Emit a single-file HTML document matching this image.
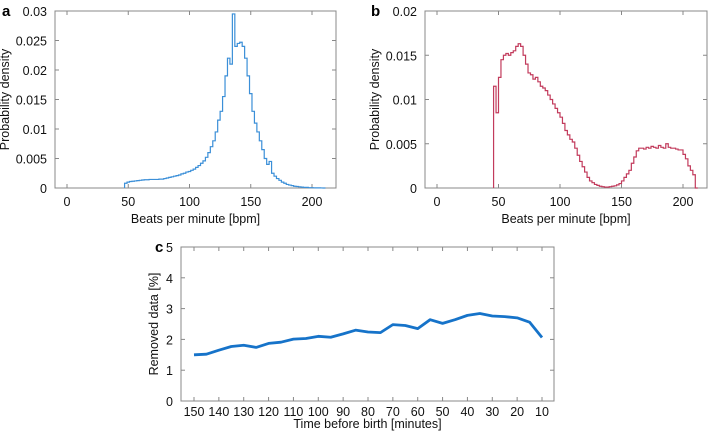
<!DOCTYPE html>
<html><head><meta charset="utf-8"><style>
body{margin:0;background:#fff;width:709px;height:431px;overflow:hidden}
svg{display:block;font-family:"Liberation Sans","DejaVu Sans",sans-serif}
</style></head><body>
<svg id="s" width="709" height="431" viewBox="0 0 709 431"></svg>
<script>
const binsA=[48,50,52,54,56,58,60,62,64,66,68,70,72,74,76,78,80,82,84,86,88,90,92,94,96,98,100,102,104,106,108,110,112,114,116,118,120,122,124,126,128,130,132,134,136,138,140,142,144,146,148,150,152,154,156,158,160,162,164,166,168,170,172,174,176,178,180,182,184,186,188,190,192,194,196,198,200,202,204,206,208,210];
const densA=[0.8,1.0,1.1,1.15,1.2,1.25,1.3,1.35,1.4,1.4,1.45,1.45,1.45,1.45,1.5,1.5,1.6,1.7,1.8,1.9,2.0,2.1,2.2,2.4,2.5,2.7,2.8,3.0,3.2,3.5,3.8,4.2,4.6,5.2,6.0,7.0,8.0,9.5,11.5,13,15.5,19,22,21,29.5,24,24.5,24.7,24,22,19,16,13,11,9.5,8,6.5,5,4,4.5,2.5,2,1.6,1.3,1.0,0.8,0.6,0.5,0.4,0.3,0.25,0.2,0.15,0.1,0.1,0.05,0.05,0.03,0.02,0.02,0.01,0];
const binsB=[47,49,51,53,55,57,59,61,63,65,67,69,71,73,75,77,79,81,83,85,87,89,91,93,95,97,99,101,103,105,107,109,111,113,115,117,119,121,123,125,127,129,131,133,135,137,139,141,143,145,147,149,151,153,155,157,159,161,163,165,167,169,171,173,175,177,179,181,183,185,187,189,191,193,195,197,199,201,203,205,207,209,211];
const densB=[11.5,8.5,12.5,14.5,15,15.2,15,15.3,15.5,16,16.3,16,15,14,13,12.8,12.3,12.5,12,11.5,11.3,11,10.5,10,9.5,9,8.5,8,7.3,6.5,6,5.5,5.2,4.5,3.7,3,2.4,1.8,1.2,0.8,0.6,0.4,0.3,0.2,0.15,0.1,0.1,0.15,0.2,0.25,0.35,0.5,0.8,1.2,1.6,2.0,2.8,3.5,4.2,4.5,4.5,4.4,4.6,4.5,4.7,4.6,4.5,4.8,4.6,4.5,5.0,4.6,4.5,4.5,4.4,4.3,4.3,3.8,3.3,2.5,2,1.5,0];
const timesC=[150,145,140,135,130,125,120,115,110,105,100,95,90,85,80,75,70,65,60,55,50,45,40,35,30,25,20,15,10];
const removedC=[1.5,1.52,1.65,1.77,1.81,1.74,1.87,1.91,2.01,2.03,2.1,2.07,2.18,2.3,2.24,2.22,2.48,2.45,2.35,2.64,2.52,2.64,2.78,2.84,2.76,2.74,2.7,2.56,2.06];
const ticksA=["0","0.005","0.01","0.015","0.02","0.025","0.03"];
const ticksB=["0","0.005","0.01","0.015","0.02"];
const ticksX=[0,50,100,150,200];
const ticksCx=[150,140,130,120,110,100,90,80,70,60,50,40,30,20,10];
const ticksCy=[0,1,2,3,4,5];

const S=document.getElementById('s');const NS="http://www.w3.org/2000/svg";
const FS=12.5;
function mk(t,a,txt){const e=document.createElementNS(NS,t);for(const k in a)e.setAttribute(k,a[k]);if(txt!==undefined)e.textContent=txt;S.appendChild(e);return e;}

function hist(o){
 const sx=v=>o.x0+(v-0)*(o.x200-o.x0)/200;
 const sy=v=>o.bottom-(v/o.ymax)*(o.bottom-o.top);
 let b=mk('rect',{x:o.left,y:o.top,width:o.right-o.left,height:o.bottom-o.top,fill:'none',stroke:'#888','stroke-width':1});
 
 o.yt.forEach((t,i)=>{const y=sy(i*0.005*1000);
  mk('line',{x1:o.left,x2:o.left+4,y1:y,y2:y,stroke:'#888'});mk('line',{x1:o.right,x2:o.right-4,y1:y,y2:y,stroke:'#888'});
  const e=mk('text',{x:o.left-8,y:y+5,'text-anchor':'end','font-size':FS,fill:'#111'},t);
  });
 ticksX.forEach(t=>{const x=sx(t);
  mk('line',{x1:x,x2:x,y1:o.bottom,y2:o.bottom-4,stroke:'#888'});mk('line',{x1:x,x2:x,y1:o.top,y2:o.top+4,stroke:'#888'});
  const e=mk('text',{x:x,y:o.bottom+18,'text-anchor':'middle','font-size':FS,fill:'#111'},t);
  });
 let d='M'+sx(o.bins[0]-1)+','+sy(0);
 o.bins.forEach((bn,i)=>{const y=sy(o.vals[i]);d+=' L'+sx(bn-1)+','+y+' L'+sx(bn+1)+','+y;});
 d+=' L'+sx(o.bins[o.bins.length-1]+1)+','+sy(0);
 const p=mk('path',{d:d,fill:'none',stroke:o.color,'stroke-width':1.2});
 
 const xl=mk('text',{x:(o.left+o.right)/2,y:o.bottom+35,'text-anchor':'middle','font-size':FS,fill:'#111'},'Beats per minute [bpm]');
 
 const yl=mk('text',{x:0,y:0,'text-anchor':'middle','font-size':FS,fill:'#111',transform:`translate(${o.ylx},${(o.top+o.bottom)/2}) rotate(-90)`},'Probability density');
 
 const pl=mk('text',{x:o.plx,y:16,'font-size':15,'font-weight':'bold',fill:'#000'},o.id);
 
}
hist({id:'a',left:55,right:336,top:11,bottom:188,x0:67,x200:312,ymax:30,yt:ticksA,bins:binsA,vals:densA,color:'#3b8fd8',ylx:9,plx:2});
hist({id:'b',left:425,right:707,top:11,bottom:188,x0:437,x200:683,ymax:20,yt:ticksB,bins:binsB,vals:densB,color:'#c23b5c',ylx:379,plx:371});

// panel c
const L=181,R=554,T=247,B=401;
const cx=v=>194+(150-v)*(542-194)/140;
const cy=v=>B-v*(B-T)/5;
const fr=mk('rect',{x:L,y:T,width:R-L,height:B-T,fill:'none',stroke:'#888'});

ticksCy.forEach(t=>{const y=cy(t);mk('line',{x1:L,x2:L+4,y1:y,y2:y,stroke:'#888'});mk('line',{x1:R,x2:R-4,y1:y,y2:y,stroke:'#888'});
 const e=mk('text',{x:L-8,y:y+5,'text-anchor':'end','font-size':FS,fill:'#111'},t);
 });
ticksCx.forEach(t=>{const x=cx(t);mk('line',{x1:x,x2:x,y1:B,y2:B-4,stroke:'#888'});mk('line',{x1:x,x2:x,y1:T,y2:T+4,stroke:'#888'});
 const e=mk('text',{x:x,y:B+15,'text-anchor':'middle','font-size':FS,fill:'#111'},t);
 });
const ln=mk('polyline',{points:timesC.map((t,i)=>cx(t)+','+cy(removedC[i])).join(' '),fill:'none',stroke:'#1673c9','stroke-width':2.8,'stroke-linejoin':'round'});

const cxl=mk('text',{x:(L+R)/2,y:B+27,'text-anchor':'middle','font-size':FS,fill:'#111'},'Time before birth [minutes]');

const cyl=mk('text',{x:0,y:0,'text-anchor':'middle','font-size':FS,fill:'#111',transform:`translate(${158},${(T+B)/2}) rotate(-90)`},'Removed data [%]');

const cl=mk('text',{x:155,y:252,'font-size':15,'font-weight':'bold',fill:'#000'},'c');

</script>
</body></html>
